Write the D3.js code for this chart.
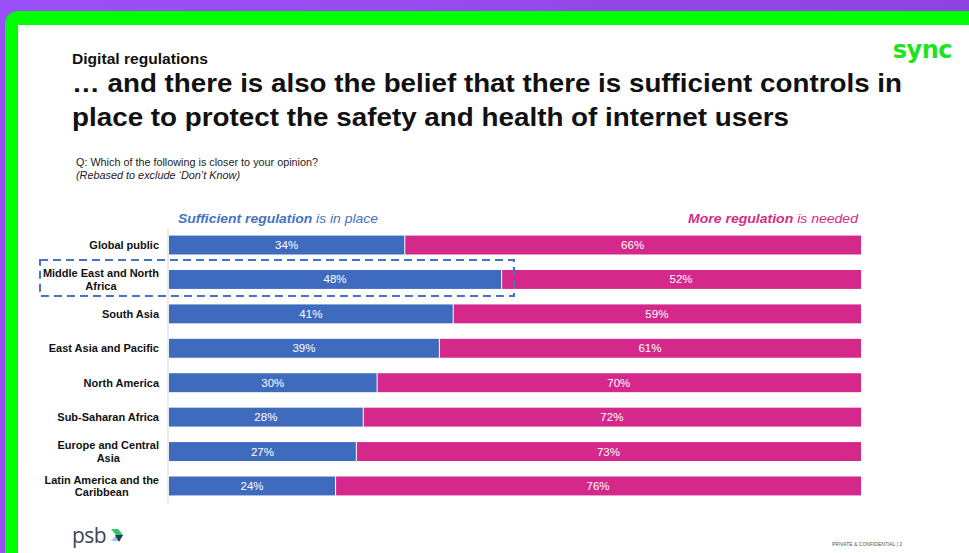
<!DOCTYPE html>
<html><head><meta charset="utf-8">
<script src="https://cdn.jsdelivr.net/npm/d3@7"></script>
<style>html,body{margin:0;padding:0;overflow:hidden;background:#fff}svg{display:block;font-family:"Liberation Sans",Arial,sans-serif}</style>
</head><body>
<script>
const categories = ["Global public", "Middle East and North Africa", "South Asia", "East Asia and Pacific", "North America", "Sub-Saharan Africa", "Europe and Central Asia", "Latin America and the Caribbean"];
const categoryLines = [["Global public"], ["Middle East and North", "Africa"], ["South Asia"], ["East Asia and Pacific"], ["North America"], ["Sub-Saharan Africa"], ["Europe and Central", "Asia"], ["Latin America and the", "Caribbean"]];
const sufficient = [34, 48, 41, 39, 30, 28, 27, 24];
const moreNeeded = [66, 52, 59, 61, 70, 72, 73, 76];
const highlighted = "Middle East and North Africa";

const W = 969, H = 553;
const blue = "#3F6BBE", pink = "#D4298A";
const svg = d3.select("body").append("svg").attr("width", W).attr("height", H);

// background frame
const grad = svg.append("defs").append("linearGradient").attr("id", "pg").attr("x1", 0).attr("x2", 1);
grad.append("stop").attr("offset", 0).attr("stop-color", "#9A50F6");
grad.append("stop").attr("offset", 1).attr("stop-color", "#8E44E2");
svg.append("rect").attr("width", W).attr("height", H).attr("fill", "url(#pg)");
svg.append("rect").attr("x", 5).attr("y", 11).attr("width", W + 40).attr("height", H + 40).attr("rx", 13).attr("fill", "#00FF00");
svg.append("rect").attr("x", 18).attr("y", 25).attr("width", W).attr("height", H).attr("fill", "#fff");

// titles
function fitText(sel, w) { sel.attr("textLength", w).attr("lengthAdjust", "spacingAndGlyphs"); return sel; }
fitText(svg.append("text").attr("x", 72).attr("y", 64).attr("font-size", 14).attr("font-weight", "bold").attr("fill", "#111").text("Digital regulations"), 136);
const tl = ["… and there is also the belief that there is sufficient controls in", "place to protect the safety and health of internet users"];
const tw = [830, 717];
tl.forEach((t, i) => fitText(svg.append("text").attr("x", 72).attr("y", 92 + i * 34).attr("font-size", 26).attr("font-weight", "bold").attr("fill", "#111").text(t), tw[i]));
svg.append("text").attr("x", 952).attr("y", 58).attr("text-anchor", "end").attr("font-size", 24).attr("font-weight", "bold").attr("fill", "#1BE51B").attr("font-family", "'DejaVu Sans',sans-serif").attr("letter-spacing", -0.5).text("sync");

fitText(svg.append("text").attr("x", 76).attr("y", 166).attr("font-size", 10.2).attr("fill", "#222").text("Q: Which of the following is closer to your opinion?"), 242);
fitText(svg.append("text").attr("x", 76).attr("y", 179).attr("font-size", 10.2).attr("font-style", "italic").attr("fill", "#222").text("(Rebased to exclude ‘Don’t Know)"), 164);

// scales
const x = d3.scaleLinear().domain([0, 100]).range([169, 861]);
const y = d3.scaleBand().domain(categories).range([228, 503]).paddingInner(0.45).paddingOuter(0.22);

// axis line
svg.append("line").attr("x1", 168).attr("x2", 168).attr("y1", 228).attr("y2", 503).attr("stroke", "#d9d9d9").attr("stroke-width", 1);

// legend
const l1 = svg.append("text").attr("x", 178).attr("y", 223).attr("font-size", 13.5).attr("font-style", "italic").attr("fill", "#4472C4");
l1.append("tspan").attr("font-weight", "bold").text("Sufficient regulation");
l1.append("tspan").text(" is in place");
fitText(l1, 200);
const l2 = svg.append("text").attr("x", 858).attr("y", 223).attr("text-anchor", "end").attr("font-size", 13.5).attr("font-style", "italic").attr("fill", "#D42B8A");
l2.append("tspan").attr("font-weight", "bold").text("More regulation");
l2.append("tspan").text(" is needed");
fitText(l2, 170);

// bars
const rows = categories.map((c, i) => ({c, lines: categoryLines[i], a: sufficient[i], b: moreNeeded[i]}));
const g = svg.append("g");
g.selectAll(".ba").data(rows).join("rect").attr("x", x(0)).attr("y", d => y(d.c)).attr("width", d => x(d.a) - x(0)).attr("height", y.bandwidth()).attr("fill", blue);
g.selectAll(".bb").data(rows).join("rect").attr("x", d => x(d.a) + 1).attr("y", d => y(d.c)).attr("width", d => x(d.a + d.b) - x(d.a) - 1).attr("height", y.bandwidth()).attr("fill", pink);
g.selectAll(".ta").data(rows).join("text").attr("x", d => x(d.a / 2)).attr("y", d => y(d.c) + y.bandwidth() / 2 + 4).attr("text-anchor", "middle").attr("font-size", 11.5).attr("fill", "#fff").text(d => d.a + "%");
g.selectAll(".tb").data(rows).join("text").attr("x", d => x(d.a + d.b / 2)).attr("y", d => y(d.c) + y.bandwidth() / 2 + 4).attr("text-anchor", "middle").attr("font-size", 11.5).attr("fill", "#fff").text(d => d.b + "%");

// category labels (right-aligned block, lines centred)
rows.forEach(d => {
  const cy = y(d.c) + y.bandwidth() / 2;
  const n = d.lines.length, lh = 12.5;
  const t = svg.append("text").attr("font-size", 11).attr("font-weight", "bold").attr("fill", "#111");
  const spans = d.lines.map((s, k) => t.append("tspan").attr("y", cy + 4 + (k - (n - 1) / 2) * lh).text(s));
  const wmax = d3.max(spans, s => s.node().getComputedTextLength());
  spans.forEach(s => s.attr("x", 159 - wmax / 2).attr("text-anchor", "middle"));
});

// highlight box
const hy = y(highlighted);
svg.append("rect").attr("x", 40).attr("y", hy - 10).attr("width", 474).attr("height", y.bandwidth() + 17)
  .attr("fill", "none").attr("stroke", "#4472C4").attr("stroke-width", 2).attr("stroke-dasharray", "8,5");

// footer
svg.append("text").attr("x", 72).attr("y", 543).attr("font-size", 21).attr("fill", "#3B4656").attr("font-family", "'Open Sans',sans-serif").attr("letter-spacing", -0.5).text("psb");
svg.append("polygon").attr("points", "111,529 118,529 123,535 116,535").attr("fill", "#2EC46A");
svg.append("polygon").attr("points", "111,541 118,541 123,535 116,535").attr("fill", "#8CCFE8");
svg.append("polygon").attr("points", "115,535 123,535 119,542").attr("fill", "#2E3A4A");
svg.append("text").attr("x", 832).attr("y", 546).attr("font-size", 5).attr("fill", "#555").text("PRIVATE & CONFIDENTIAL | 2");
</script>
</body></html>
